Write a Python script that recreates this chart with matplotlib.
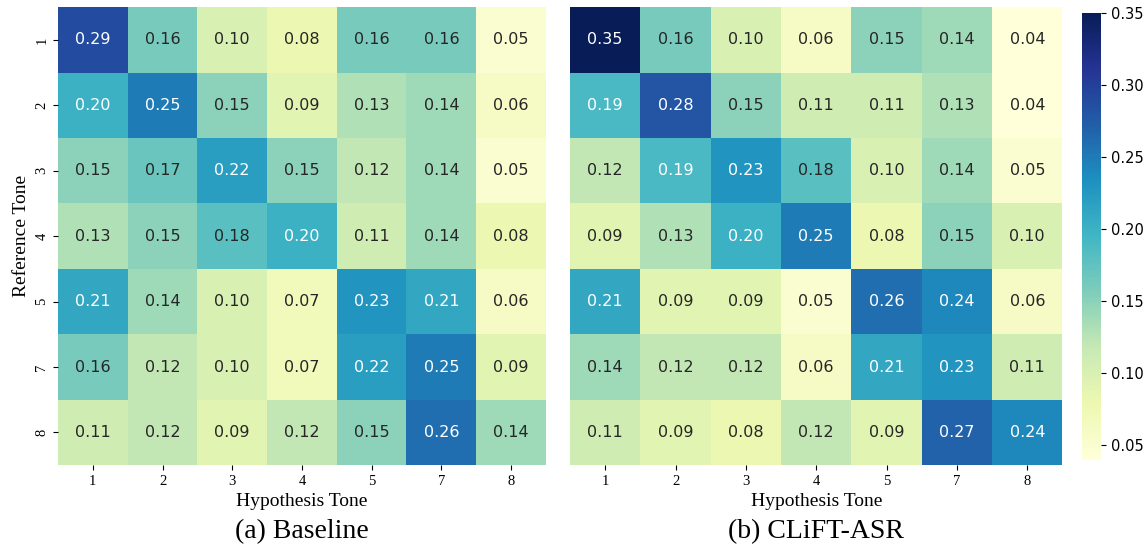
import numpy as np
import matplotlib
matplotlib.use('Agg')
import matplotlib.pyplot as plt
import seaborn as sns

# === DATA ===
tones = ["1", "2", "3", "4", "5", "7", "8"]

baseline = np.array([
    [0.29, 0.16, 0.10, 0.08, 0.16, 0.16, 0.05],
    [0.20, 0.25, 0.15, 0.09, 0.13, 0.14, 0.06],
    [0.15, 0.17, 0.22, 0.15, 0.12, 0.14, 0.05],
    [0.13, 0.15, 0.18, 0.20, 0.11, 0.14, 0.08],
    [0.21, 0.14, 0.10, 0.07, 0.23, 0.21, 0.06],
    [0.16, 0.12, 0.10, 0.07, 0.22, 0.25, 0.09],
    [0.11, 0.12, 0.09, 0.12, 0.15, 0.26, 0.14],
])

clift = np.array([
    [0.35, 0.16, 0.10, 0.06, 0.15, 0.14, 0.04],
    [0.19, 0.28, 0.15, 0.11, 0.11, 0.13, 0.04],
    [0.12, 0.19, 0.23, 0.18, 0.10, 0.14, 0.05],
    [0.09, 0.13, 0.20, 0.25, 0.08, 0.15, 0.10],
    [0.21, 0.09, 0.09, 0.05, 0.26, 0.24, 0.06],
    [0.14, 0.12, 0.12, 0.06, 0.21, 0.23, 0.11],
    [0.11, 0.09, 0.08, 0.12, 0.09, 0.27, 0.24],
])

titles = ["(a) Baseline", "(b) CLiFT-ASR"]
cbar_ticks = [0.05, 0.10, 0.15, 0.20, 0.25, 0.30, 0.35]

# === PLOT ===
serif = "Liberation Serif"
vmin, vmax = 0.04, 0.35

fig = plt.figure(figsize=(11.48, 5.46), dpi=100)
ax1 = fig.add_axes([0.0505, 0.148, 0.425, 0.839])
ax2 = fig.add_axes([0.4965, 0.148, 0.429, 0.839])
cax = fig.add_axes([0.9425, 0.158, 0.0165, 0.818])

for i, (ax, data, title) in enumerate(zip([ax1, ax2], [baseline, clift], titles)):
    sns.heatmap(data, ax=ax, cmap="YlGnBu", vmin=vmin, vmax=vmax,
                annot=True, fmt=".2f", annot_kws={"size": 11.5},
                xticklabels=tones, yticklabels=tones if i == 0 else False,
                cbar=(i == 1), cbar_ax=cax if i == 1 else None)
    ax.set_xticklabels(tones, fontfamily=serif, fontsize=10.5, rotation=0)
    ax.set_xlabel("Hypothesis Tone", fontfamily=serif, fontsize=14, labelpad=4)
    ax.text(0.5, -0.118, title, transform=ax.transAxes, ha="center", va="top",
            fontfamily=serif, fontsize=20)
    if i == 0:
        ax.set_yticklabels(tones, fontfamily=serif, fontsize=10.5, rotation=90, va="center")
        ax.set_ylabel("Reference Tone", fontfamily=serif, fontsize=14, labelpad=4)
    else:
        ax.tick_params(left=False)

cax.tick_params(labelsize=10.5)
cax.set_yticks(cbar_ticks)
cax.set_yticklabels([f"{t:.2f}" for t in cbar_ticks])

fig.savefig("out.png", dpi=100)
